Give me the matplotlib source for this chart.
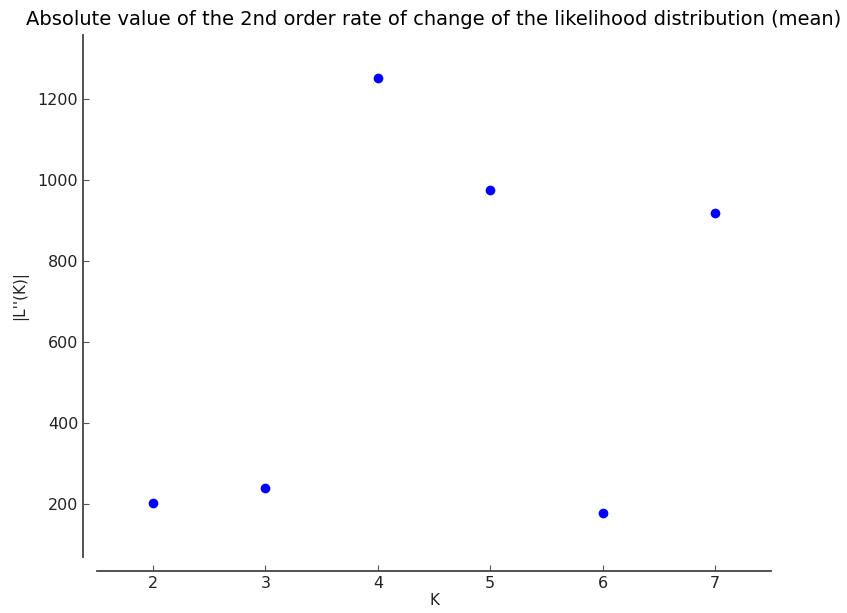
import matplotlib
matplotlib.use("Agg")
import matplotlib.pyplot as plt

K = [2, 3, 4, 5, 6, 7]
values = [203, 240, 1250, 975, 176, 918]
title = "Absolute value of the 2nd order rate of change of the likelihood distribution (mean)"

fig = plt.figure(figsize=(8.47, 6.13), dpi=100)
ax = fig.add_axes([0.1145, 0.0914, 0.7958, 0.8515])
ax.plot(K, values, "o", color="#0000ff", markersize=7, markeredgewidth=0)
ax.set_xlim(1.5, 7.5)
lo, hi = min(values), max(values)
r = hi - lo
ax.set_ylim(lo - 0.1 * r, hi + 0.1 * r)
ax.set_xticks(K)
ax.set_yticks([200, 400, 600, 800, 1000, 1200])
for s in ["top", "right"]:
    ax.spines[s].set_visible(False)
for s in ["left", "bottom"]:
    ax.spines[s].set_position(("outward", 10))
    ax.spines[s].set_color("#444444")
    ax.spines[s].set_linewidth(1.3)
ax.tick_params(direction="in", length=4, width=0.8, colors="#555555", labelcolor="#222222", labelsize=11.5)
ax.set_xlabel("K", fontsize=11, color="#222222", labelpad=2)
ax.set_ylabel("|L''(K)|", fontsize=11, color="#222222", labelpad=7)
ax.set_title(title, fontsize=14, pad=7)
fig.savefig("out.png", dpi=100)
